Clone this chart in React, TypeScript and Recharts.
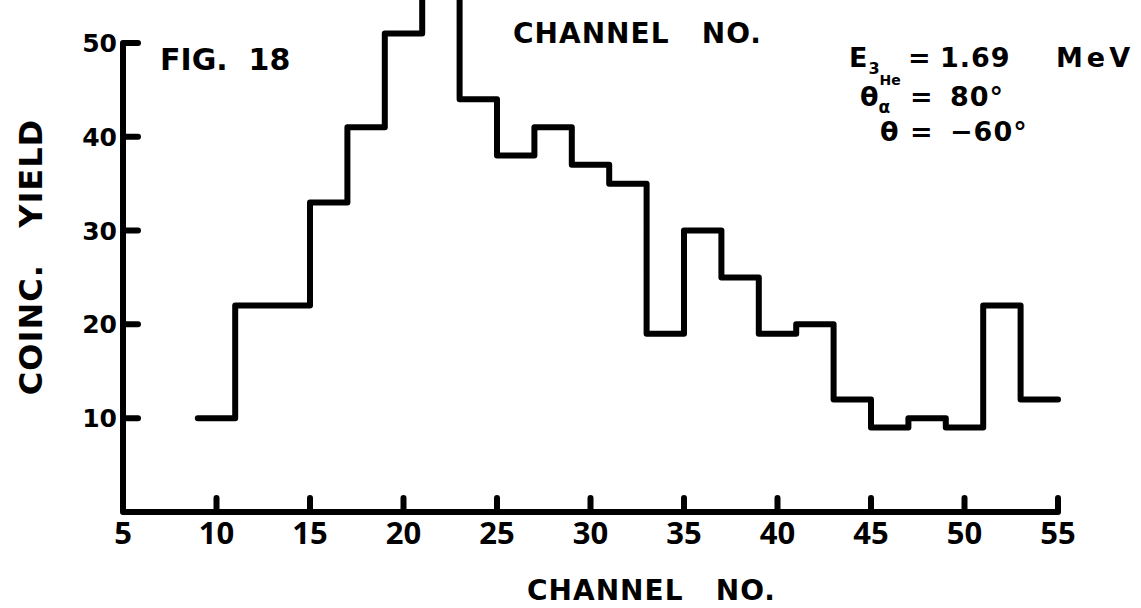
import { LineChart, Line, XAxis, YAxis, ReferenceLine } from 'recharts';

// bin start channel (each bin is 2 channels wide) and coincidence counts
const BIN_STARTS = [9, 11, 13, 15, 17, 19, 21, 23, 25, 27, 29, 31, 33, 35, 37, 39, 41, 43, 45, 47, 49, 51, 53];
const COUNTS = [10, 22, 22, 33, 41, 51, 60, 44, 38, 41, 37, 35, 19, 30, 25, 19, 20, 12, 9, 10, 9, 22, 12];
const BIN_WIDTH = 2;

const X_TICKS = [5, 10, 15, 20, 25, 30, 35, 40, 45, 50, 55];
const Y_TICKS = [10, 20, 30, 40, 50];

const INK = '#000';
const LETTERING = '"DejaVu Sans", sans-serif';
const STROKE = 6;

// stepAfter needs one closing point at the right edge of the last bin
const stepData = [
  ...BIN_STARTS.map((ch, i) => ({ channel: ch, count: COUNTS[i] })),
  { channel: BIN_STARTS[BIN_STARTS.length - 1] + BIN_WIDTH, count: COUNTS[COUNTS.length - 1] },
];

function XTick({ x, y, payload }: any) {
  return (
    <g>
      <line x1={x} x2={x} y1={y} y2={y - 14} stroke={INK} strokeWidth={STROKE} strokeLinecap="round" />
      <text x={x} y={y + 32} textAnchor="middle" fill={INK} fontFamily='"Open Sans", sans-serif' fontWeight={700} fontSize={31}>
        {payload.value}
      </text>
    </g>
  );
}

function YTick({ x, y, payload }: any) {
  return (
    <g>
      <line x1={x} x2={x + 15} y1={y} y2={y} stroke={INK} strokeWidth={STROKE} strokeLinecap="round" />
      <text x={x - 6} y={y} dy="0.36em" textAnchor="end" fill={INK} fontFamily={LETTERING} fontWeight={700} fontSize={25}>
        {payload.value}
      </text>
    </g>
  );
}

function Annotations() {
  const txt = { fill: INK, fontFamily: LETTERING, fontWeight: 700, style: { whiteSpace: 'pre' as const } };
  return (
    <svg width={1141} height={608} style={{ position: 'absolute', left: 0, top: 0, pointerEvents: 'none' }}>
      <text x={160} y={70} fontSize={30} {...txt}>FIG.  18</text>
      <text x={513} y={43} fontSize={28} letterSpacing={1} {...txt}>CHANNEL   NO.</text>
      <text x={527} y={600} fontSize={28} letterSpacing={1} {...txt}>CHANNEL   NO.</text>
      <text
        x={0}
        y={0}
        fontSize={32}
        letterSpacing={1}
        textAnchor="middle"
        transform="translate(42 257) rotate(-90)"
        {...txt}
      >
        COINC.   YIELD
      </text>

      {/* experiment conditions */}
      <text fontSize={27} {...txt}>
        <tspan x={849} y={67}>E</tspan>
        <tspan dx={1} dy={7} fontSize={16}>3</tspan>
        <tspan dy={11} fontSize={14}>He</tspan>
        <tspan x={908} y={67}>=</tspan>
        <tspan x={940} y={67} letterSpacing={1}>1.69</tspan>
        <tspan x={1056} y={67} letterSpacing={4}>MeV</tspan>
      </text>
      <text fontSize={27} {...txt}>
        <tspan x={860} y={106}>θ</tspan>
        <tspan dy={7} fontSize={17}>α</tspan>
        <tspan x={910} y={106}>=</tspan>
        <tspan x={950} y={106} letterSpacing={1}>80°</tspan>
      </text>
      <text fontSize={27} {...txt}>
        <tspan x={880} y={141}>θ</tspan>
        <tspan x={910} y={141}>=</tspan>
        <tspan x={950} y={141} letterSpacing={1}>−60°</tspan>
      </text>
    </svg>
  );
}

export default function App() {
  return (
    <div style={{ position: 'absolute', left: 0, top: 0, width: 1141, height: 608, background: '#fff' }}>
      <LineChart width={1141} height={608} data={stepData} margin={{ top: -4, right: 83, bottom: 36, left: 63 }}>
        <XAxis
          type="number"
          dataKey="channel"
          domain={[5, 55]}
          ticks={X_TICKS}
          interval={0}
          height={60}
          tickSize={0}
          tickMargin={0}
          tickLine={false}
          axisLine={{ stroke: INK, strokeWidth: STROKE }}
          tick={<XTick />}
        />
        <YAxis
          type="number"
          domain={[0, 55]}
          ticks={Y_TICKS}
          interval={0}
          width={60}
          tickSize={0}
          tickMargin={0}
          tickLine={false}
          axisLine={false}
          allowDataOverflow
          tick={<YTick />}
        />
        <ReferenceLine
          segment={[{ x: 5, y: 0 }, { x: 5, y: 50 }]}
          stroke={INK}
          strokeWidth={STROKE}
          ifOverflow="visible"
        />
        <Line
          type="stepAfter"
          dataKey="count"
          stroke={INK}
          strokeWidth={STROKE}
          strokeLinejoin="round"
          strokeLinecap="round"
          dot={false}
          activeDot={false}
          isAnimationActive={false}
        />
      </LineChart>
      <Annotations />
    </div>
  );
}
